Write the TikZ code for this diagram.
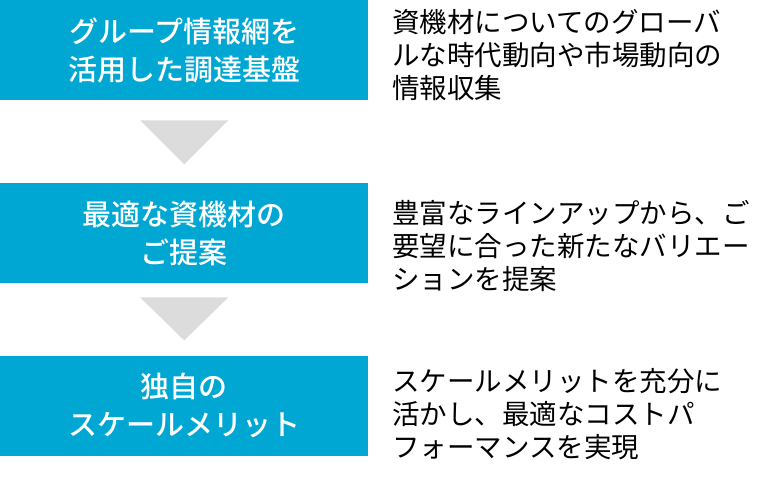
\documentclass[tikz,border=0pt]{standalone}
\usepackage{fontspec}
\usetikzlibrary{calc}
\setmainfont{Noto Sans CJK JP}
\newfontfamily\boxfont{Noto Sans CJK JP Medium}
\definecolor{boxblue}{HTML}{00A7D3}
\definecolor{arrgray}{HTML}{DCDCDC}
\tikzset{
  stepbox/.style={fill=boxblue, draw=none, minimum width=368pt, minimum height=100pt,
    inner sep=0pt, anchor=north west, text=white, align=center,
    font=\boxfont\fontsize{29pt}{38pt}\selectfont},
  desc/.style={anchor=base west, inner sep=0pt, align=left, text=black,
    font=\fontsize{27.5pt}{33pt}\selectfont},
  downarrow/.style={fill=arrgray, draw=none}
}
\begin{document}
\begin{tikzpicture}[x=1pt, y=-1pt]
\useasboundingbox (0,0) rectangle (763,485);
\node[stepbox] (b1) at (0,0) {グループ情報網を\\活用した調達基盤};
\node[stepbox] (b2) at (0,183) {最適な資機材の\\ご提案};
\node[stepbox] (b3) at (0,355.5) {独自の\\スケールメリット};
\node[desc] (d1) at (392,98.5) {資機材についてのグローバ\\ルな時代動向や市場動向の\\情報収集};
\node[desc] (d2) at (392,289.5) {豊富なラインアップから、ご\\要望に合った新たなバリエー\\ションを提案};
\node[desc] (d3) at (392,457.5) {スケールメリットを充分に\\活かし、最適なコストパ\\フォーマンスを実現};
\fill[downarrow] ($(b1.south)+(-44,20)$) -- ($(b1.south)+(44,20)$) -- ($(b1.south)+(0,64)$) -- cycle;
\fill[downarrow] ($(b2.south)+(-44,14)$) -- ($(b2.south)+(44,14)$) -- ($(b2.south)+(0,57)$) -- cycle;
\end{tikzpicture}
\end{document}
